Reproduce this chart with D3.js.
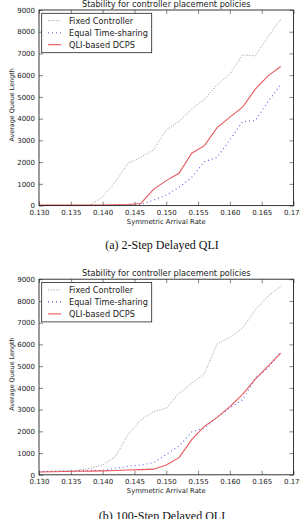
<!DOCTYPE html>
<html>
<head>
<meta charset="utf-8">
<script src="https://cdn.jsdelivr.net/npm/d3@7"></script>
<style>
  body { margin: 0; background: #fff; }
  svg { display: block; }
  text { font-family: "DejaVu Sans", sans-serif; fill: #222; }
  .caption { font-family: "Liberation Serif", serif; fill: #111; }
</style>
</head>
<body>
<div id="chart"></div>
<script>
// arrival rates (x values)
const rates = [0.130, 0.132, 0.134, 0.136, 0.138, 0.140, 0.142, 0.144, 0.146, 0.148,
               0.150, 0.152, 0.154, 0.156, 0.158, 0.160, 0.162, 0.164, 0.166, 0.168];

// (a) 2-step delayed QLI
const fixedA = [0, 0, 0, 0, 20, 400, 1100, 1950, 2220, 2560,
                3480, 3870, 4440, 4900, 5560, 6060, 6940, 6890, 7780, 8580];
const equalA = [10, 10, 10, 10, 10, 15, 20, 30, 50, 250,
                490, 840, 1300, 2020, 2220, 3020, 3870, 3910, 4790, 5560];
const qliA   = [20, 20, 20, 25, 25, 30, 40, 50, 100, 750,
                1150, 1490, 2410, 2760, 3590, 4070, 4530, 5360, 5970, 6400];

// (b) 100-step delayed QLI
const fixedB = [150, 160, 180, 200, 300, 450, 830, 1850, 2530, 2910,
                3060, 3740, 4200, 4650, 6020, 6330, 6750, 7600, 8220, 8660];
const equalB = [150, 160, 170, 190, 200, 210, 300, 390, 450, 560,
                940, 1320, 1970, 2150, 2650, 3080, 3450, 4450, 4900, 5680];
const qliB   = [130, 140, 150, 160, 170, 180, 200, 220, 240, 260,
                450, 790, 1620, 2230, 2640, 3140, 3700, 4400, 5000, 5600];

const seriesNames = ["Fixed Controller", "Equal Time-sharing", "QLI-based DCPS"];
const xTicks = [0.130, 0.135, 0.140, 0.145, 0.150, 0.155, 0.160, 0.165, 0.170];
const yTicks = [0, 1000, 2000, 3000, 4000, 5000, 6000, 7000, 8000, 9000];

const title = "Stability for controller placement policies";
const xLabel = "Symmetric Arrival Rate";
const yLabel = "Average Queue Length";

const styles = [
  { color: "#8c8c8c", dash: "1,1.6", width: 0.9 },
  { color: "#5a5af0", dash: "1,3", width: 1.1 },
  { color: "#e8585c", dash: null, width: 1.1 }
];

const svg = d3.select("#chart").append("svg")
    .attr("width", 300)
    .attr("height", 519);

const margin = { left: 39, right: 6.5 };
const width = 300 - margin.left - margin.right;

function drawPanel(top, values, caption, captionY) {
  const height = 195.6;
  const g = svg.append("g").attr("transform", `translate(${margin.left},${top})`);

  const x = d3.scaleLinear().domain([0.130, 0.170]).range([0, width]);
  const y = d3.scaleLinear().domain([0, 9000]).range([height, 0]);

  // axes, matplotlib style: ticks pointing in on all four sides
  g.append("g")
      .attr("transform", `translate(0,${height})`)
      .call(d3.axisBottom(x).tickValues(xTicks).tickFormat(d3.format(".3f")).tickSizeInner(-4).tickSizeOuter(0).tickPadding(4));
  g.append("g")
      .call(d3.axisLeft(y).tickValues(yTicks).tickFormat(d => d).tickSizeInner(-4).tickSizeOuter(0).tickPadding(4));
  g.append("g")
      .call(d3.axisTop(x).tickValues(xTicks).tickFormat("").tickSizeInner(-4).tickSizeOuter(0));
  g.append("g")
      .attr("transform", `translate(${width},0)`)
      .call(d3.axisRight(y).tickValues(yTicks).tickFormat("").tickSizeInner(-4).tickSizeOuter(0));
  g.selectAll(".domain").remove();
  g.selectAll(".tick line").attr("stroke", "#333").attr("stroke-width", 0.6);
  g.selectAll(".tick text").style("font-size", "7px").attr("fill", "#222");

  // lines
  const line = d3.line()
      .x((d, i) => x(rates[i]))
      .y(d => y(d));
  values.forEach((vals, k) => {
    const p = g.append("path")
        .datum(vals)
        .attr("fill", "none")
        .attr("stroke", styles[k].color)
        .attr("stroke-width", styles[k].width)
        .attr("d", line);
    if (styles[k].dash) p.attr("stroke-dasharray", styles[k].dash);
  });

  // frame
  g.append("rect")
      .attr("width", width)
      .attr("height", height)
      .attr("fill", "none")
      .attr("stroke", "#222")
      .attr("stroke-width", 0.9);

  // title and axis labels
  g.append("text")
      .attr("x", width / 2)
      .attr("y", -3.5)
      .style("text-anchor", "middle")
      .style("font-size", "8.2px")
      .text(title);
  g.append("text")
      .attr("x", width / 2)
      .attr("y", height + 18.5)
      .style("text-anchor", "middle")
      .style("font-size", "6.8px")
      .text(xLabel);
  g.append("text")
      .attr("transform", "rotate(-90)")
      .attr("x", -height / 2 + 3)
      .attr("y", -27)
      .attr("dy", "0.35em")
      .style("text-anchor", "middle")
      .style("font-size", "6.4px")
      .text(yLabel);

  // legend
  const lg = g.append("g").attr("transform", "translate(2.7,3.3)");
  lg.append("rect")
      .attr("width", 110)
      .attr("height", 39.4)
      .attr("fill", "#fff")
      .attr("stroke", "#222")
      .attr("stroke-width", 0.8);
  seriesNames.forEach((name, k) => {
    const yy = 7.4 + k * 12;
    const l = lg.append("line")
        .attr("x1", 6.3).attr("x2", 19.5)
        .attr("y1", yy).attr("y2", yy)
        .attr("stroke", styles[k].color)
        .attr("stroke-width", styles[k].width);
    if (styles[k].dash) l.attr("stroke-dasharray", styles[k].dash);
    lg.append("text")
        .attr("x", 27.3)
        .attr("y", yy)
        .attr("dy", "0.35em")
        .style("font-size", "8.2px")
        .text(name);
  });

  svg.append("text")
      .attr("class", "caption")
      .attr("x", 162)
      .attr("y", captionY)
      .style("text-anchor", "middle")
      .style("font-size", "12px")
      .text(caption);
}

drawPanel(10, [fixedA, equalA, qliA], "(a) 2-Step Delayed QLI", 249);
drawPanel(279.2, [fixedB, equalB, qliB], "(b) 100-Step Delayed QLI", 520);
</script>
</body>
</html>
